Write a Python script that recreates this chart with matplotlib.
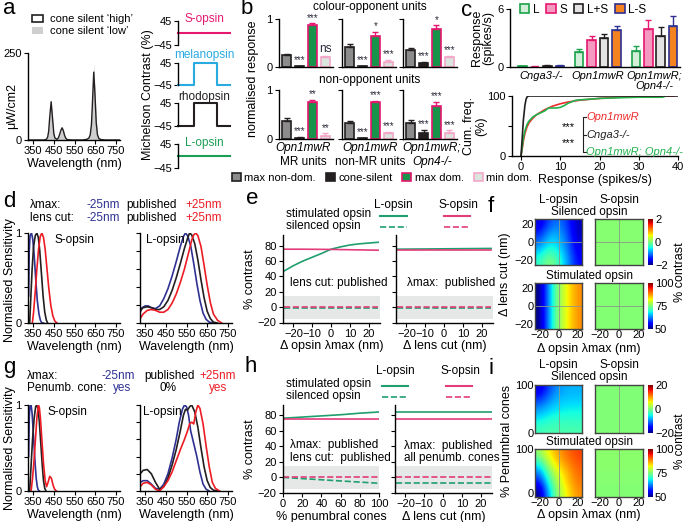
import numpy as np
import matplotlib
matplotlib.use('Agg')
import matplotlib.pyplot as plt
from matplotlib.patches import Patch
from matplotlib.lines import Line2D

plt.rcParams['font.family'] = ['Liberation Sans', 'DejaVu Sans']
plt.rcParams['font.size'] = 8
plt.rcParams['axes.linewidth'] = 1.0
plt.rcParams['xtick.major.size'] = 3
plt.rcParams['ytick.major.size'] = 3
plt.rcParams['xtick.major.pad'] = 1.5
plt.rcParams['ytick.major.pad'] = 1.5

# ---------------- data ----------------
# a: LED spectra
spec_wl = [325, 400, 410, 415, 420, 425, 430, 437, 444, 450, 455, 465, 472, 478, 484, 490, 496, 502, 508,
           515, 540, 590, 610, 620, 626, 632, 637, 643, 649, 655, 661, 668, 680, 700, 770]
spec_high = [0, 0, 1, 3, 8, 25, 65, 110, 60, 18, 6, 2, 6, 16, 28, 35, 27, 13, 5,
             1, 0, 0, 2, 6, 15, 45, 110, 195, 130, 50, 15, 4, 1, 0, 0]
spec_low = [0, 0, 1, 3, 8, 25, 65, 110, 60, 18, 6, 2, 6, 16, 28, 35, 27, 13, 5,
            1, 0, 0, 2, 7, 18, 55, 130, 222, 150, 58, 17, 5, 1, 0, 0]
mich_t = [0, 0.3, 0.3, 0.75, 0.75, 1.0]
mich_flat = [0, 0, 0, 0, 0, 0]
mich_step = [-45, -45, 45, 45, -45, -45]

# b: normalised responses (max non-dom, cone-silent, max dom, min dom)
b_group1 = ['Opn1mwR', 'Opn1mwR', 'Opn1mwR;']
b_group2 = ['MR units', 'non-MR units', 'Opn4-/-']
b_opp_mean = [[0.25, 0.02, 0.88, 0.20], [0.42, 0.02, 0.65, 0.10], [0.35, 0.08, 0.80, 0.20]]
b_opp_err = [[0.02, 0.01, 0.03, 0.03], [0.05, 0.01, 0.08, 0.05], [0.04, 0.03, 0.07, 0.03]]
b_opp_sig = [['', '***', '***', 'ns'], ['', '***', '*', '***'], ['', '***', '*', '***']]
b_non_mean = [[0.37, 0.03, 0.75, 0.07], [0.33, 0.02, 0.75, 0.12], [0.33, 0.13, 0.68, 0.13]]
b_non_err = [[0.05, 0.01, 0.05, 0.05], [0.03, 0.01, 0.03, 0.03], [0.06, 0.06, 0.08, 0.05]]
b_non_sig = [['', '***', '**', '**'], ['', '***', '***', '***'], ['', '***', '***', '***']]
b_names = ['max non-dom.', 'cone-silent', 'max dom.', 'min dom.']

# c: responses (L, S, L+S, L-S)
c_groups = ['Cnga3-/-', 'Opn1mwR', 'Opn1mwR;\nOpn4-/-']
c_names = ['L', 'S', 'L+S', 'L-S']
c_mean = [[0.10, 0.05, 0.15, 0.15], [1.6, 2.8, 3.0, 3.8], [1.7, 3.9, 3.2, 4.2]]
c_err = [[0.05, 0.03, 0.08, 0.08], [0.3, 0.4, 0.4, 0.4], [0.5, 1.0, 0.9, 1.1]]
cum_red_x = [0, 0.3, 0.6, 1, 1.5, 2, 3, 4, 5, 6, 8, 10, 12, 15, 20, 25, 30, 35, 39]
cum_red_y = [0, 12, 25, 38, 48, 55, 63, 69, 73, 77, 83, 87, 90, 93, 96, 98, 99, 99.5, 100]
cum_grn_x = [0, 0.3, 0.6, 1, 1.5, 2, 3, 4, 5, 6, 7, 9, 10, 11, 12, 14, 16, 20, 25, 30, 36, 37]
cum_grn_y = [0, 15, 30, 42, 52, 58, 65, 69, 72, 75, 80, 80, 81, 84, 88, 93, 94, 96, 97, 98, 98, 100]
cum_blk_x = [0, 0.3, 0.6, 1, 1.3, 1.6, 2, 40]
cum_blk_y = [0, 30, 60, 85, 95, 99, 100, 100]

# d: sensitivities, lambda max & lens cut shifted
dS_blue_wl = [328, 331, 335, 342, 348, 355, 362, 370, 378, 385, 392, 400]
dS_blue = [0.3, 0.8, 0.97, 1.0, 0.93, 0.75, 0.5, 0.25, 0.1, 0.03, 0.0, 0.0]
dS_blk_wl = [333, 338, 345, 352, 360, 368, 375, 382, 390, 398, 406, 414, 420]
dS_blk = [0.0, 0.25, 0.6, 0.85, 0.97, 1.0, 0.95, 0.8, 0.55, 0.3, 0.12, 0.03, 0]
dS_red_wl = [346, 352, 360, 368, 376, 384, 392, 400, 408, 416, 425, 435, 445, 455, 465]
dS_red = [0.0, 0.12, 0.35, 0.6, 0.82, 0.96, 1.0, 0.95, 0.82, 0.62, 0.4, 0.2, 0.08, 0.02, 0]
dL_blue_wl = [326, 335, 350, 365, 380, 400, 420, 440, 460, 480, 500, 520, 535, 545, 555, 570, 585, 600, 615, 630, 645, 660, 680]
dL_blue = [0.12, 0.17, 0.19, 0.19, 0.17, 0.16, 0.19, 0.27, 0.38, 0.52, 0.68, 0.85, 0.96, 1.0, 0.97, 0.86, 0.66, 0.44, 0.25, 0.11, 0.04, 0.01, 0]
dL_blk_wl = [326, 340, 360, 380, 400, 420, 440, 460, 480, 500, 520, 540, 555, 565, 575, 590, 605, 620, 635, 650, 665, 680, 700]
dL_blk = [0.14, 0.17, 0.18, 0.17, 0.15, 0.15, 0.18, 0.25, 0.36, 0.50, 0.66, 0.83, 0.94, 1.00, 0.98, 0.88, 0.70, 0.48, 0.28, 0.13, 0.05, 0.01, 0]
dL_red_wl = [326, 340, 360, 380, 400, 420, 440, 460, 480, 500, 520, 540, 560, 575, 585, 595, 605, 620, 635, 650, 665, 680, 700, 720]
dL_red = [0.05, 0.10, 0.14, 0.15, 0.14, 0.12, 0.12, 0.15, 0.22, 0.32, 0.45, 0.60, 0.78, 0.92, 0.98, 1.0, 0.97, 0.85, 0.64, 0.42, 0.23, 0.10, 0.03, 0]

# g: sensitivities with penumbral cones
gS_blue_wl = [328, 331, 335, 340, 345, 350, 355, 360, 365, 370, 375, 380]
gS_blue = [0.4, 0.85, 1.0, 1.0, 0.9, 0.7, 0.5, 0.3, 0.14, 0.05, 0.01, 0]
gS_blk_wl = [333, 340, 347, 355, 362, 368, 374, 380, 387, 394, 400, 406, 412]
gS_blk = [0.0, 0.3, 0.6, 0.85, 0.98, 1.0, 0.95, 0.8, 0.55, 0.3, 0.12, 0.03, 0]
gS_red_wl = [340, 347, 354, 361, 368, 375, 380, 385, 392, 400, 408, 415, 422, 430, 438, 446, 454, 462]
gS_red = [0.0, 0.15, 0.35, 0.6, 0.85, 1.0, 0.97, 0.85, 0.6, 0.32, 0.12, 0.05, 0.1, 0.17, 0.15, 0.07, 0.02, 0]
gL_blue_wl = [326, 340, 360, 380, 400, 420, 440, 460, 480, 500, 515, 530, 540, 550, 560, 570, 585, 600, 615, 630, 645, 660]
gL_blue = [0.1, 0.12, 0.12, 0.08, 0.03, 0.02, 0.08, 0.2, 0.38, 0.6, 0.8, 0.95, 1.0, 0.98, 0.88, 0.7, 0.55, 0.4, 0.22, 0.08, 0.02, 0]
gL_blk_wl = [326, 340, 360, 380, 400, 420, 440, 460, 480, 500, 520, 535, 545, 555, 565, 575, 590, 605, 620, 635, 650, 665, 680, 700]
gL_blk = [0.2, 0.24, 0.25, 0.2, 0.1, 0.02, 0.05, 0.15, 0.3, 0.48, 0.7, 0.88, 0.95, 0.94, 0.98, 1.0, 0.92, 0.74, 0.5, 0.28, 0.12, 0.04, 0.01, 0]
gL_red_wl = [326, 340, 360, 380, 400, 420, 440, 460, 480, 500, 520, 540, 555, 565, 575, 585, 595, 605, 615, 630, 645, 660, 675, 690, 710]
gL_red = [0.05, 0.09, 0.1, 0.07, 0.02, 0.0, 0.05, 0.12, 0.22, 0.35, 0.48, 0.6, 0.7, 0.78, 0.8, 0.78, 0.92, 1.0, 0.96, 0.78, 0.52, 0.28, 0.1, 0.03, 0]

# e: contrast vs lambda max shift / lens cut shift
e_shift = [-25, -20, -15, -10, -5, 0, 5, 10, 15, 20, 25]
e1_L_stim = [47, 54, 60, 65, 70, 75.5, 78.5, 81, 82.5, 83.5, 84.5]
e1_S_stim = [75.5, 75.5, 75.5, 75.4, 75.3, 75.2, 75, 74.8, 74.6, 74.4, 74.2]
e1_L_sil = [-1, -1, -1, -1, -1, -1, -1, -1, -1, -1, -1]
e1_S_sil = [0, 0, 0, 0, 0, 0, 0, 0, 0, 0, 0]
e2_L_stim = [75.5, 75.6, 75.7, 75.8, 75.9, 76, 76.1, 76.2, 76.3, 76.4, 76.5]
e2_S_stim = [75, 75, 75, 75, 75, 75, 75, 75, 75, 75, 75]
e2_L_sil = [-0.5, -0.5, -0.5, -0.5, -0.5, -0.5, -0.5, -0.5, -0.5, -0.5, -0.5]
e2_S_sil = [0, 0, 0, 0, 0, 0, 0, 0, 0, 0, 0]

# h: contrast vs penumbral cones / lens cut
h_pen = [0, 20, 40, 60, 80, 100]
h1_L_stim = [76, 77.5, 79, 80.5, 82.5, 84]
h1_S_stim = [75, 75, 75, 75, 75, 75]
h1_L_sil = [0, -1.5, -3, -4.5, -6, -7.5]
h1_S_sil = [0, 0, 0, 0, 0, 0]
h_lens = [-25, 26]
h2_L_stim = [84, 84]
h2_S_stim = [75, 75]
h2_L_sil = [-7.5, -7.5]
h2_S_sil = [0, 0]

# f: heatmaps (rows: lens cut +25 -> -25, cols: lambda max -25 -> +25)
f_sil_L = [[-1.7, -1.2, -1.0, -1.3, -1.8],
           [-1.4, -0.9, -0.8, -1.2, -1.8],
           [-1.1, -0.6, -0.7, -1.1, -1.7],
           [-0.7, -0.3, -0.5, -1.0, -1.6],
           [-0.4, 0.1, -0.3, -0.9, -1.5]]
f_sil_S = [[0.05, 0.05], [0.05, 0.05]]
f_stim_L = [[50, 58, 68, 76, 81, 85, 88],
            [50, 58, 68, 76, 81, 85, 88],
            [50, 58, 68, 76, 81, 85, 88]]
f_stim_S = [[75.5, 75.5], [75.5, 75.5]]
# i: heatmaps (rows: penumbral 100 -> 0)
i_sil_L = [[-17, -12, -9, -8, -8],
           [-13, -9.5, -7.5, -7, -7],
           [-9, -7, -6, -5.5, -5.5],
           [-6, -4.5, -4, -4, -4],
           [-3, -2.5, -2.5, -2.5, -2.5]]
i_sil_S = [[0.2, 0.2], [0.2, 0.2]]
i_stim_L = [[76, 83, 87, 90, 92],
            [69, 79, 85, 88, 91],
            [62, 74, 81, 86, 90],
            [56, 70, 79, 85, 89],
            [50, 66, 77, 83, 88]]
i_stim_S = [[76, 76], [75.5, 75.5]]

# ---------------- style ----------------
BLK = '#231f20'
NAVY = '#2e3192'
RED = '#ed1c24'
PINK = '#e5176f'
CYAN = '#29aae1'
GREEN = '#1a9e55'
EGREEN = '#1f9e6e'
EPINK = '#e23c7b'

W, H = 685, 522
fig = plt.figure(figsize=(W / 100, H / 100), dpi=100)


def axp(x0, y0, x1, y1):
    return fig.add_axes([x0 / W, 1 - y1 / H, (x1 - x0) / W, (y1 - y0) / H])


def ftxt(x, y, s, **kw):
    kw.setdefault('ha', 'left')
    kw.setdefault('va', 'center')
    fig.text(x / W, 1 - y / H, s, **kw)


def fline(xs, ys, **kw):
    fig.add_artist(Line2D([x / W for x in xs], [1 - y / H for y in ys], **kw))


def clean(ax):
    ax.spines['top'].set_visible(False)
    ax.spines['right'].set_visible(False)


for lab, x, y in [('a', 3, 9), ('b', 241, 9), ('c', 461, 11), ('d', 3, 202),
                  ('e', 246, 199), ('f', 488, 206), ('g', 3, 368), ('h', 244, 367), ('i', 488, 368)]:
    ftxt(x, y, lab, fontsize=16)

# ---------------- a ----------------
ax = axp(28, 53, 120, 140)
ax.fill_between(spec_wl, spec_low, color='#cfcfcf', lw=0)
ax.plot(spec_wl, spec_high, color=BLK, lw=1)
ax.set_xlim(325, 770)
ax.set_ylim(0, 250)
ax.set_yticks([0, 250])
ax.set_xticks([350, 450, 550, 650, 750])
ax.set_xlabel('Wavelength (nm)', fontsize=9, labelpad=1)
clean(ax)
ftxt(12, 106, 'μW/cm2', rotation=90, ha='center', fontsize=9)
fig.legend(handles=[Patch(facecolor='white', edgecolor=BLK, lw=1.2, label='cone silent ‘high’'),
                    Patch(facecolor='#cfcfcf', edgecolor='none', label='cone silent ‘low’')],
           loc='upper left', bbox_to_anchor=(22 / W, 1 - 4 / H), frameon=False, fontsize=8,
           handlelength=1.0, handleheight=0.6, labelspacing=0.2, handletextpad=0.6)

mich = [('S-opsin', PINK, mich_flat, 21, 45, 19),
        ('melanopsin', CYAN, mich_step, 63, 85, 55),
        ('rhodopsin', BLK, mich_step, 103, 126, 97),
        ('L-opsin', GREEN, mich_flat, 144, 168, 143)]
for name, col, vals, t, b, ty in mich:
    ax = axp(178, t, 230, b)
    ax.plot(mich_t, vals, color=col, lw=1.5, clip_on=False)
    ax.set_xlim(0, 1)
    ax.set_ylim(-45, 45)
    ax.set_yticks([-45, 45])
    ax.set_xticks([])
    for s in ['top', 'right', 'bottom']:
        ax.spines[s].set_visible(False)
    ax.patch.set_alpha(0)
    ftxt(204, ty, name, color=col, ha='center', fontsize=8.5)
ftxt(148, 95, 'Michelson Contrast (%)', rotation=90, ha='center', fontsize=9)

# ---------------- b ----------------
b_face = ['#8c8c8c', '#231f20', '#17934a', '#dbe4dd']
b_edge = ['#231f20', '#231f20', PINK, '#f4a6c8']
b_xs = [(279, 333), (342, 396), (403, 457)]
for (means, errs, sigs), (yt, yb) in [((b_opp_mean, b_opp_err, b_opp_sig), (19, 67)),
                                     ((b_non_mean, b_non_err, b_non_sig), (90, 139))]:
    for g, (x0, x1) in enumerate(b_xs):
        ax = axp(x0, yt, x1, yb)
        for k in range(4):
            ax.bar(k, means[g][k], width=0.68, color=b_face[k], edgecolor=b_edge[k], lw=1.2)
            ax.errorbar(k, means[g][k], yerr=[[0], [errs[g][k]]], color=b_edge[k], capsize=2,
                        lw=1, capthick=1)
            if sigs[g][k]:
                ax.text(k, means[g][k] + errs[g][k] + 0.01, sigs[g][k], ha='center', va='bottom',
                        fontsize=7 if sigs[g][k] != 'ns' else 8.5, color='#2b2b3b')
        ax.set_xlim(-0.6, 3.6)
        ax.set_ylim(0, 1)
        ax.set_xticks([])
        ax.set_yticks([0, 1])
        if g > 0:
            ax.set_yticklabels([])
        clean(ax)
ftxt(370, 7, 'colour-opponent units', ha='center', fontsize=8.5)
ftxt(370, 80, 'non-opponent units', ha='center', fontsize=8.5)
ftxt(253, 79, 'normalised response', rotation=90, ha='center', fontsize=9)
for g, xc in enumerate([303, 370, 432]):
    ftxt(xc, 148, b_group1[g], ha='center', fontsize=8.5, style='italic')
    ftxt(xc, 162, b_group2[g], ha='center', fontsize=8.5,
         style='italic' if g == 2 else 'normal')
fig.legend(handles=[Patch(facecolor=b_face[k], edgecolor=b_edge[k], lw=1.2, label=b_names[k])
                    for k in range(4)],
           loc='center', bbox_to_anchor=(382 / W, 1 - 178 / H), ncol=4, frameon=False, fontsize=8,
           handlelength=0.8, handleheight=0.8, columnspacing=0.9, handletextpad=0.3)

# ---------------- c ----------------
c_face = ['#d3efd9', '#f49ac1', '#e3e3e3', '#f58220']
c_edge = ['#1aa34a', PINK, BLK, NAVY]
ax = axp(510, 9, 680, 67)
for g in range(3):
    for k in range(4):
        xk = g + (k - 1.5) * 0.22
        ax.bar(xk, c_mean[g][k], width=0.15, color=c_face[k], edgecolor=c_edge[k], lw=1.2)
        ax.errorbar(xk, c_mean[g][k], yerr=[[0], [c_err[g][k]]], color=c_edge[k], capsize=2,
                    lw=1, capthick=1)
ax.set_xlim(-0.55, 2.45)
ax.set_ylim(0, 6)
ax.set_yticks([0, 6])
ax.set_xticks([0, 1, 2])
ax.set_xticklabels(c_groups, style='italic', fontsize=8, va='top', linespacing=1.0)
ax.tick_params(axis='x', length=0, pad=3)
ax.set_ylabel('Response\n(spikes/s)', fontsize=9, labelpad=2, linespacing=1.0)
clean(ax)
fig.legend(handles=[Patch(facecolor=c_face[k], edgecolor=c_edge[k], lw=1.2, label=c_names[k])
                    for k in range(4)],
           loc='center', bbox_to_anchor=(583 / W, 1 - 10 / H), ncol=4, frameon=False, fontsize=8.5,
           handlelength=0.8, handleheight=0.8, columnspacing=0.6, handletextpad=0.3)

ax = axp(512, 96, 678, 156)
ax.plot(cum_red_x, cum_red_y, color='#ee2b2b', lw=1.2)
ax.plot(cum_grn_x, cum_grn_y, color='#22b24c', lw=1.2)
ax.plot(cum_blk_x, cum_blk_y, color=BLK, lw=1.2)
ax.set_xlim(-2.3, 40)
ax.set_ylim(0, 100)
ax.set_xticks([0, 10, 20, 30, 40])
ax.set_yticks([0, 50, 100])
ax.set_yticklabels(['0', '', '100'])
ax.set_xlabel('Response (spikes/s)', fontsize=9, labelpad=1)
ax.set_ylabel('Cum. freq.\n(%)', fontsize=9, labelpad=0, linespacing=1.0)
clean(ax)
ftxt(586, 117, 'Opn1mwR', color='#ee2b2b', style='italic', fontsize=8)
ftxt(586, 135, 'Cnga3-/-', color=BLK, style='italic', fontsize=8)
ftxt(586, 152, 'Opn1mwR; Opn4-/-', color='#22b24c', style='italic', fontsize=8)
ftxt(562, 127, '***', fontsize=8)
ftxt(562, 143, '***', fontsize=8)
fline([586, 583, 583, 586], [117, 117, 152, 152], color=BLK, lw=0.8)
fline([583, 586], [135, 135], color=BLK, lw=0.8)


# ---------------- d & g ----------------
def sens_axes(x0, y0, x1, y1, curves, label, lab_x, show_y):
    ax = axp(x0, y0, x1, y1)
    for wl, s, col in curves:
        ax.plot(wl, s, color=col, lw=1.2)
    ax.set_xlim(325, 770)
    ax.set_ylim(0, 1.0)
    ax.set_xticks([350, 450, 550, 650, 750])
    ax.set_yticks([0, 0.2, 0.4, 0.6, 0.8, 1.0])
    ax.set_yticklabels(['0', '', '', '', '', '1'] if show_y else [])
    ax.set_xlabel('Wavelength (nm)', fontsize=9, labelpad=1)
    ax.text(lab_x, 0.92, label, fontsize=8.5, va='center')
    clean(ax)
    return ax


sens_axes(28, 233, 120, 323, [(dS_blue_wl, dS_blue, NAVY), (dS_blk_wl, dS_blk, BLK),
                              (dS_red_wl, dS_red, RED)], 'S-opsin', 455, True)
sens_axes(140, 233, 232, 323, [(dL_blue_wl, dL_blue, NAVY), (dL_blk_wl, dL_blk, BLK),
                               (dL_red_wl, dL_red, RED)], 'L-opsin', 355, False)
sens_axes(28, 405, 120, 491, [(gS_blue_wl, gS_blue, NAVY), (gS_blk_wl, gS_blk, BLK),
                              (gS_red_wl, gS_red, RED)], 'S-opsin', 420, True)
sens_axes(140, 405, 232, 491, [(gL_blue_wl, gL_blue, NAVY), (gL_blk_wl, gL_blk, BLK),
                               (gL_red_wl, gL_red, RED)], 'L-opsin', 340, False)
ftxt(10, 280, 'Normalised Sensitivity', rotation=90, ha='center', fontsize=9)
ftxt(10, 448, 'Normalised Sensitivity', rotation=90, ha='center', fontsize=9)

ftxt(30, 205, 'λmax:', fontsize=8.5)
ftxt(30, 218, 'lens cut:', fontsize=8.5)
for row in [205, 218]:
    ftxt(103, row, '-25nm', color=NAVY, ha='center', fontsize=8.5)
    ftxt(151, row, 'published', ha='center', fontsize=8.5)
    ftxt(204, row, '+25nm', color=RED, ha='center', fontsize=8.5)
ftxt(27, 376, 'λmax:', fontsize=8.5)
ftxt(27, 388, 'Penumb. cone:', fontsize=8.5)
ftxt(118, 376, '-25nm', color=NAVY, ha='center', fontsize=8.5)
ftxt(169, 376, 'published', ha='center', fontsize=8.5)
ftxt(218, 376, '+25nm', color=RED, ha='center', fontsize=8.5)
ftxt(122, 388, 'yes', color=NAVY, ha='center', fontsize=8.5)
ftxt(168, 388, '0%', ha='center', fontsize=8.5)
ftxt(218, 388, 'yes', color=RED, ha='center', fontsize=8.5)


# ---------------- e & h ----------------
def contrast_axes(x0, y0, x1, y1, xs, lines, xlim, xticks, xlabel, show_y, top):
    ax = axp(x0, y0, x1, y1)
    ax.axhspan(-15, 15, color='#e6e8e8', lw=0, zorder=0)
    for ys, col, ls in lines:
        ax.plot(xs, ys, color=col, lw=1.2, ls=ls)
    ax.set_xlim(*xlim)
    ax.set_ylim(-20, top)
    ax.set_xticks(xticks)
    ax.set_yticks([-20, 0, 20, 40, 60, 80])
    if not show_y:
        ax.set_yticklabels([])
    else:
        ax.set_ylabel('% contrast', fontsize=9, labelpad=1)
    ax.set_xlabel(xlabel, fontsize=9, labelpad=1)
    clean(ax)
    return ax


contrast_axes(283, 235, 380, 322.5, e_shift,
              [(e1_L_stim, EGREEN, '-'), (e1_S_stim, EPINK, '-'), (e1_L_sil, EGREEN, '--'), (e1_S_sil, EPINK, '--')],
              (-25.5, 26), [-20, -10, 0, 10, 20], 'Δ opsin λmax (nm)', True, 94)
contrast_axes(396, 235, 493, 322.5, e_shift,
              [(e2_L_stim, EGREEN, '-'), (e2_S_stim, EPINK, '-'), (e2_L_sil, EGREEN, '--'), (e2_S_sil, EPINK, '--')],
              (-25.5, 26), [-20, -10, 0, 10, 20], 'Δ lens cut (nm)', False, 94)
contrast_axes(283, 405, 379, 493, h_pen,
              [(h1_L_stim, EGREEN, '-'), (h1_S_stim, EPINK, '-'), (h1_L_sil, EGREEN, '--'), (h1_S_sil, EPINK, '--')],
              (0, 100), [0, 20, 40, 60, 80, 100], '% penumbral cones', True, 93)
contrast_axes(395, 405, 492, 493, h_lens,
              [(h2_L_stim, EGREEN, '-'), (h2_S_stim, EPINK, '-'), (h2_L_sil, EGREEN, '--'), (h2_S_sil, EPINK, '--')],
              (-25.5, 26), [-20, -10, 0, 10, 20], 'Δ lens cut (nm)', False, 93)

ftxt(290, 283, 'lens cut: published', fontsize=8.5)
ftxt(407, 283, 'λmax:  published', fontsize=8.5)
ftxt(290, 445, 'λmax:  published', fontsize=8.5)
ftxt(290, 458, 'lens cut:  published', fontsize=8.5)
ftxt(404, 446, 'λmax:  published', fontsize=8.5)
ftxt(404, 458, 'all penumb. cones', fontsize=8.5)

for (yl, ys1, ys2, xg, xp) in [(205, 214, 226, (380, 407), (444, 470)),
                               (371, 384, 396, (382, 408), (446, 472))]:
    ftxt(sum(xg) / 2, yl, 'L-opsin', ha='center', fontsize=8.5)
    ftxt(sum(xp) / 2 + 1, yl, 'S-opsin', ha='center', fontsize=8.5)
    ftxt(286, ys1, 'stimulated opsin', fontsize=8.5)
    ftxt(286, ys2, 'silenced opsin', fontsize=8.5)
    fline(xg, [ys1 + 2, ys1 + 2], color=EGREEN, lw=1.5)
    fline(xg, [ys2 + 1, ys2 + 1], color=EGREEN, lw=1.2, ls='--')
    fline(xp, [ys1 + 2, ys1 + 2], color=EPINK, lw=1.5)
    fline(xp, [ys2 + 1, ys2 + 1], color=EPINK, lw=1.2, ls='--')


# ---------------- f & i ----------------
def heat(x0, y0, x1, y1, data, vmin, vmax, ext, yticks, xt, hline):
    ax = axp(x0, y0, x1, y1)
    im = ax.imshow(data, cmap='jet', vmin=vmin, vmax=vmax, extent=ext, aspect='auto',
                   interpolation='bicubic', origin='upper')
    ax.axvline(0, color='#8a9a8a', lw=0.6)
    if hline:
        ax.axhline(0, color='#8a9a8a', lw=0.6)
    ax.set_yticks(yticks)
    ax.set_xticks([-20, 0, 20])
    if not xt:
        ax.set_xticklabels([])
    ax.tick_params(length=0, pad=1, labelsize=8)
    for s in ax.spines.values():
        s.set_color('#444444')
    return ax, im


fl = (-25, 25, -25, 25)
ax, _ = heat(535, 219, 582, 265, f_sil_L, -2, 2, fl, [-20, 0, 20], False, True)
ax, im = heat(595, 219, 643, 265, f_sil_S, -2, 2, fl, [], False, True)
cb = fig.colorbar(im, cax=axp(648, 219, 653, 265), ticks=[-2, 0, 2])
ax, _ = heat(535, 283, 582, 329, f_stim_L, 50, 100, fl, [-20, 0, 20], True, True)
ax, im = heat(595, 283, 643, 329, f_stim_S, 50, 100, fl, [], True, True)
cb2 = fig.colorbar(im, cax=axp(648, 283, 653, 329), ticks=[50, 75, 100])

il = (-25, 25, 0, 100)
ax, _ = heat(535, 385, 582, 433, i_sil_L, -20, 20, il, [0, 100], False, False)
ax, im = heat(595, 385, 643, 433, i_sil_S, -20, 20, il, [], False, False)
cb3 = fig.colorbar(im, cax=axp(648, 385, 653, 433), ticks=[-20, 0, 20])
ax, _ = heat(535, 449, 582, 497, i_stim_L, 50, 100, il, [0, 100], True, False)
ax.set_yticks([8, 100])
ax.set_yticklabels(['0', '100'])
ax, im = heat(595, 449, 643, 497, i_stim_S, 50, 100, il, [], True, False)
cb4 = fig.colorbar(im, cax=axp(648, 449, 653, 497), ticks=[50, 75, 100])
for c in [cb, cb2, cb3, cb4]:
    c.ax.tick_params(length=0, pad=1.5, labelsize=8)
    c.outline.set_visible(False)

for top in [200, 365]:
    ftxt(558, top, 'L-opsin', ha='center', fontsize=8.5)
    ftxt(619, top, 'S-opsin', ha='center', fontsize=8.5)
ftxt(589, 212, 'Silenced opsin', ha='center', fontsize=8.5)
ftxt(589, 276, 'Stimulated opsin', ha='center', fontsize=8.5)
ftxt(589, 377, 'Silenced opsin', ha='center', fontsize=8.5)
ftxt(589, 442, 'Stimulated opsin', ha='center', fontsize=8.5)
ftxt(589, 349, 'Δ opsin λmax (nm)', ha='center', fontsize=9)
ftxt(589, 515, 'Δ opsin λmax (nm)', ha='center', fontsize=9)
ftxt(505, 274, 'Δ lens cut (nm)', rotation=90, ha='center', fontsize=9)
ftxt(507, 441, '% Penumbral cones', rotation=90, ha='center', fontsize=9)
ftxt(680, 272, '% contrast', rotation=90, ha='center', fontsize=9)
ftxt(680, 441, '% contrast', rotation=90, ha='center', fontsize=8.5)

fig.savefig('out.png', dpi=100)
